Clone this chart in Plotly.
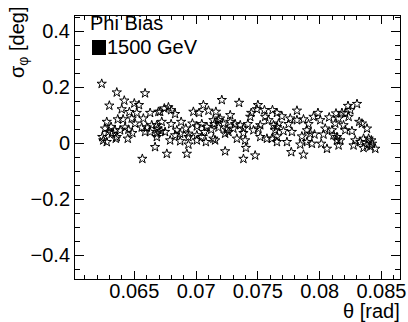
import plotly.graph_objects as go

# theta [rad]
theta = [
    0.06236, 0.06358, 0.06587, 0.06298, 0.06419, 0.06500, 0.06538, 0.06398, 0.06460, 0.06520,
    0.06628, 0.06695, 0.06366, 0.06409, 0.06479, 0.06573, 0.06277, 0.06506, 0.06263, 0.06312,
    0.06344, 0.06385, 0.06425, 0.06452, 0.06484, 0.06560, 0.06601, 0.06641, 0.06682, 0.06628,
    0.06682, 0.06241, 0.06317, 0.06358, 0.06249, 0.06277, 0.06350, 0.06447, 0.06668, 0.06565,
    0.06290, 0.06587, 0.06763, 0.06925, 0.06938,
    0.06709, 0.06743, 0.06776, 0.06798, 0.06830, 0.07059, 0.06978, 0.07024, 0.07100, 0.07160,
    0.06722, 0.06798, 0.06879, 0.06970, 0.07046, 0.07140, 0.07181, 0.06690, 0.06717, 0.06749,
    0.06844, 0.06917, 0.07006, 0.07087, 0.07148, 0.06830, 0.06871, 0.06938, 0.07006, 0.07067,
    0.07122, 0.06790, 0.06871, 0.06938, 0.07006, 0.07046, 0.06682, 0.07079, 0.07140,
    0.07208, 0.07348, 0.07500, 0.07276, 0.07446, 0.07492, 0.07553, 0.07618, 0.07194, 0.07438,
    0.07559, 0.07586, 0.07221, 0.07276, 0.07316, 0.07357, 0.07419, 0.07519, 0.07626, 0.07667,
    0.07181, 0.07249, 0.07302, 0.07383, 0.07464, 0.07505, 0.07640, 0.07235, 0.07262, 0.07383,
    0.07154, 0.07330, 0.07397, 0.07519, 0.07573, 0.07613, 0.07654, 0.07403, 0.07235, 0.07383,
    0.07478,
    0.07816, 0.07986, 0.08077, 0.08132, 0.07654, 0.07694, 0.07762, 0.07816, 0.07869, 0.07950,
    0.08005, 0.07748, 0.07910, 0.07654, 0.07707, 0.07775, 0.07897, 0.08045, 0.08099, 0.07924,
    0.07958, 0.08031, 0.08112, 0.07856, 0.07735, 0.07843, 0.07897, 0.07937, 0.08013, 0.08059,
    0.08140, 0.07770, 0.07869, 0.07654,
    0.08302, 0.08229, 0.08248, 0.08180, 0.08207, 0.08234, 0.08153, 0.08320, 0.08342, 0.08383,
    0.08126, 0.08193, 0.08207, 0.08261, 0.08140, 0.08167, 0.08153, 0.08288, 0.08329, 0.08355,
    0.08396, 0.08418, 0.08424, 0.08383, 0.08450, 0.08274, 0.08355, 0.08410,
]

# sigma_phi [deg]
sigma_phi = [
    0.213, 0.182, 0.179, 0.135, 0.153, 0.143, 0.137, 0.122, 0.112, 0.109,
    0.109, 0.113, 0.086, 0.086, 0.089, 0.089, 0.077, 0.071, 0.053, 0.059,
    0.047, 0.047, 0.057, 0.049, 0.037, 0.057, 0.057, 0.065, 0.065, 0.041,
    0.035, 0.023, 0.035, 0.023, 0.011, 0.005, 0.017, 0.017, -0.013, -0.055,
    0.041, 0.041, -0.037, -0.037, -0.004,
    0.113, 0.125, 0.129, 0.119, 0.105, 0.137, 0.113, 0.109, 0.117, 0.113,
    0.077, 0.069, 0.077, 0.071, 0.069, 0.083, 0.083, 0.053, 0.044, 0.041,
    0.047, 0.053, 0.061, 0.059, 0.069, 0.029, 0.035, 0.035, 0.029, 0.041,
    0.049, 0.011, 0.008, 0.023, 0.011, 0.023, 0.023, 0.005, 0.017,
    0.155, 0.145, 0.137, 0.101, 0.109, 0.122, 0.119, 0.119, 0.089, 0.095,
    0.095, 0.083, 0.071, 0.077, 0.069, 0.065, 0.069, 0.065, 0.065, 0.071,
    0.057, 0.049, 0.053, 0.053, 0.047, 0.053, 0.047, 0.035, 0.041, 0.037,
    0.011, 0.017, 0.011, 0.023, 0.017, 0.017, 0.025, -0.016, -0.028, -0.055,
    -0.043,
    0.117, 0.109, 0.093, 0.107, 0.109, 0.097, 0.089, 0.083, 0.086, 0.095,
    0.083, 0.069, 0.069, 0.059, 0.044, 0.041, 0.047, 0.053, 0.047, 0.035,
    0.032, 0.032, 0.029, 0.025, 0.005, -0.004, 0.005, -0.001, -0.001, -0.019,
    0.011, -0.031, -0.040, 0.005,
    0.141, 0.134, 0.119, 0.109, 0.107, 0.095, 0.089, 0.077, 0.071, 0.053,
    0.071, 0.065, 0.047, 0.044, 0.023, 0.011, -0.007, 0.011, 0.005, 0.017,
    0.017, 0.011, -0.001, -0.007, -0.019, -0.007, -0.016, -0.011,
]

x_range = [0.0602, 0.0865]
y_range = [-0.484, 0.455]

FONT = "Liberation Sans, Arial, Helvetica, sans-serif"
FS = 20

fig = go.Figure()
fig.add_trace(go.Scatter(
    x=theta, y=sigma_phi, mode="markers",
    marker=dict(symbol="star-open", size=7, color="black", line=dict(width=1, color="black")),
    showlegend=False,
))

axis_common = dict(
    showgrid=False, zeroline=False, showline=True, linecolor="black", linewidth=1,
    mirror="ticks", ticks="inside", tickcolor="black", tickwidth=1, automargin=False,
    tickfont=dict(family=FONT, size=FS, color="black"),
)

fig.update_xaxes(range=x_range, dtick=0.005, tick0=0.0, ticklen=8, ticklabelstandoff=-6,
                 minor=dict(ticks="inside", ticklen=4, dtick=0.001, tickcolor="black"),
                 **axis_common)
fig.update_yaxes(range=y_range, dtick=0.2, tick0=0.0, ticklen=9,
                 minor=dict(ticks="inside", ticklen=5, dtick=0.05, tickcolor="black"),
                 **axis_common)

# plot area: x 75..400, y 16..279
W, H = 408, 322
L, R, T, B = 75, 8, 16, 43
pw, ph = W - L - R, H - T - B

def px(xp):
    return (xp - L) / pw

def py(yp):
    return (H - B - yp) / ph

fig.add_annotation(text="σ<sub>φ</sub> [deg]", textangle=-90, xref="paper", yref="paper",
                   x=px(18), y=py(43), xanchor="center", yanchor="middle", showarrow=False,
                   font=dict(family=FONT, size=FS, color="black"))
fig.add_annotation(text="θ [rad]", xref="paper", yref="paper",
                   x=px(402), y=py(311), xanchor="right", yanchor="middle", showarrow=False,
                   font=dict(family=FONT, size=FS, color="black"))
fig.add_annotation(text="Phi Bias", xref="paper", yref="paper",
                   x=px(88), y=py(23), xanchor="left", yanchor="middle", showarrow=False,
                   font=dict(family=FONT, size=FS, color="black"))
fig.add_annotation(text="1500 GeV", xref="paper", yref="paper",
                   x=px(105), y=py(47), xanchor="left", yanchor="middle", showarrow=False,
                   font=dict(family=FONT, size=FS, color="black"))
fig.add_shape(type="rect", xref="paper", yref="paper",
              x0=px(92), x1=px(106), y0=py(55), y1=py(40),
              fillcolor="black", line=dict(width=0))

fig.update_layout(
    width=W, height=H,
    margin=dict(l=L, r=R, t=T, b=B, autoexpand=False),
    paper_bgcolor="white", plot_bgcolor="white",
    font=dict(family=FONT, size=FS, color="black"),
    showlegend=False,
)

fig.write_html("out.html", config={"displayModeBar": False},
               post_script="document.body.style.margin='0';document.body.style.overflow='hidden';")
